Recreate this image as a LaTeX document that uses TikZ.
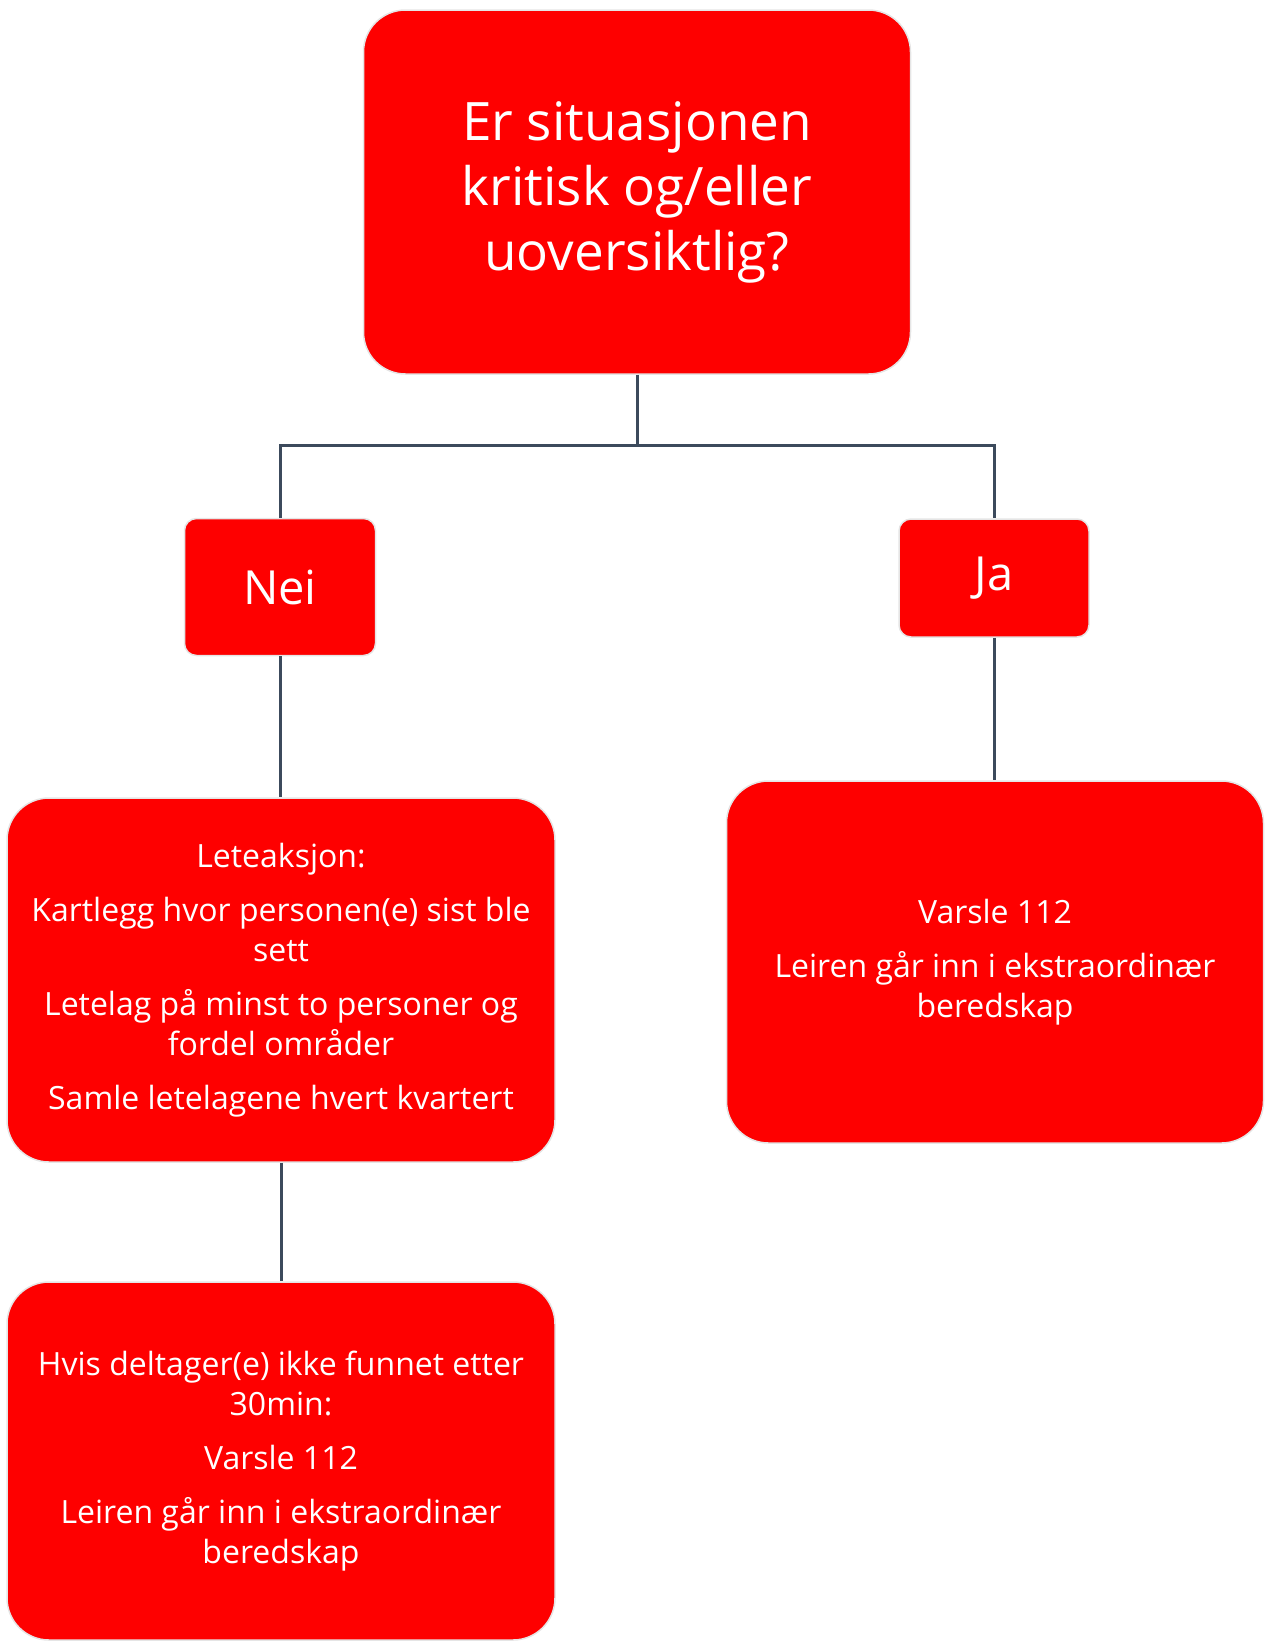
\documentclass[tikz,border=0pt]{standalone}
\usepackage{fontspec}
\setmainfont{Open Sans}
\usepackage{tikz}
\usetikzlibrary{positioning}
\definecolor{boxred}{HTML}{FE0000}
\definecolor{linegray}{HTML}{3C4A5C}

\begin{document}
\begin{tikzpicture}[x=1pt,y=-1pt,
                    box/.style={draw=gray!20,line width=1.5pt,fill=boxred,text=white,
                                rounded corners=42pt,align=center,inner sep=0pt},
                    answer/.style={box,rounded corners=12pt,font=\fontsize{47}{60}\selectfont},
                    body/.style={box,font=\fontsize{32}{40}\selectfont},
                    link/.style={draw=linegray,line width=3pt}]
  \useasboundingbox (0,0) rectangle (1266,1641);

  \node[box,minimum width=547pt,minimum height=364pt,font=\fontsize{53}{65}\selectfont]
        (Q) at (637,192) {Er situasjonen\\kritisk og/eller\\uoversiktlig?};
  \node[answer,minimum width=191pt,minimum height=137pt] (nei) at (280,587) {Nei};
  \node[answer,minimum width=190pt,minimum height=118pt] (ja)  at (994,578) {Ja};

  \node[body,minimum width=548pt,minimum height=364pt] (lete) at (281,980)
        {Leteaksjon:\\[14pt]
         Kartlegg hvor personen(e) sist ble\\sett\\[14pt]
         Letelag på minst to personer og\\fordel områder\\[14pt]
         Samle letelagene hvert kvartert};
  \node[body,minimum width=537pt,minimum height=362pt] (varsel) at (995,962)
        {Varsle 112\\[14pt]
         Leiren går inn i ekstraordinær\\beredskap};
  \node[body,minimum width=548pt,minimum height=358pt] (funnet) at (281,1461)
        {Hvis deltager(e) ikke funnet etter\\30min:\\[14pt]
         Varsle 112\\[14pt]
         Leiren går inn i ekstraordinær\\beredskap};

  \coordinate (split) at (637,445);
  \draw[link] (Q.south) -- (split) -| (nei.north);
  \draw[link] (split) -| (ja.north);
  \draw[link] (nei.south) -- (lete.north -| nei.south);
  \draw[link] (ja.south) -- (varsel.north -| ja.south);
  \draw[link] (lete.south) -- (funnet.north);
\end{tikzpicture}
\end{document}
